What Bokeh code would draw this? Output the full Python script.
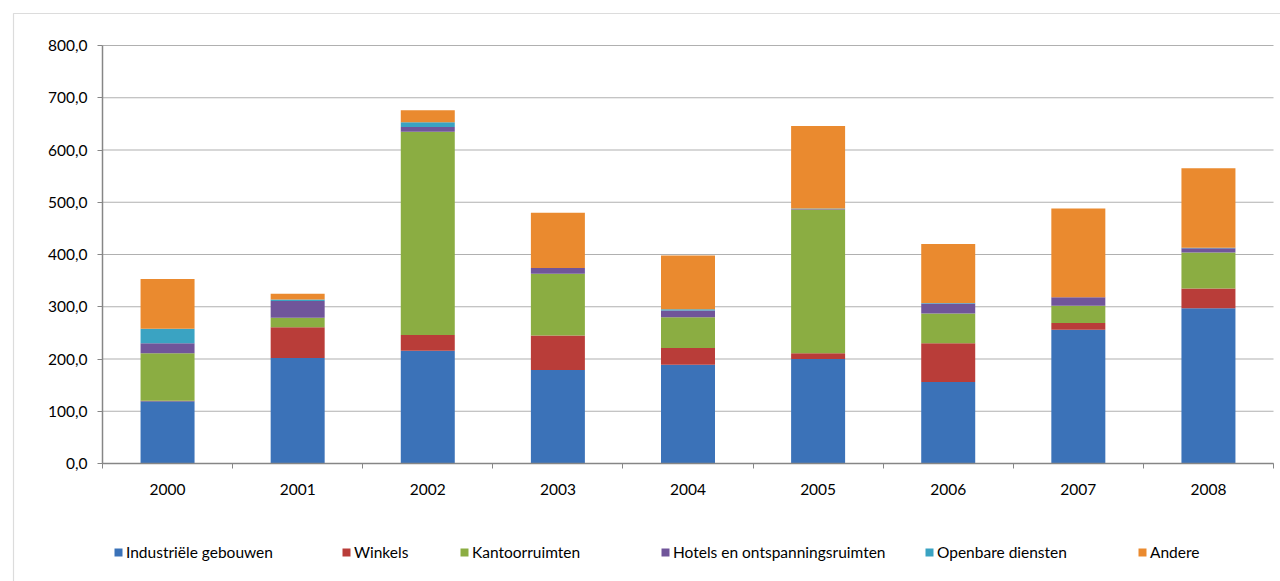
from bokeh.plotting import figure
from bokeh.models import (Range1d, FixedTicker, Legend, LegendItem, BoxAnnotation, ColumnDataSource)
from bokeh.embed import file_html
from bokeh.resources import INLINE

years = ["2000", "2001", "2002", "2003", "2004", "2005", "2006", "2007", "2008"]
series = ["Industriële gebouwen", "Winkels", "Kantoorruimten",
          "Hotels en ontspanningsruimten", "Openbare diensten", "Andere"]
industriele = [119, 202, 216, 179, 189, 200, 156, 256, 297]
winkels = [1, 59, 30, 66, 32, 11, 74, 13, 38]
kantoor = [91, 18, 389, 118, 59, 275, 57, 33, 69]
hotels = [19, 32, 9, 11, 13, 1, 19, 16, 8]
openbare = [28, 3, 9, 0, 2, 1, 1, 0, 1]
andere = [95, 11, 23, 106, 103, 158, 113, 170, 152]
y_ticks = [0, 100, 200, 300, 400, 500, 600, 700, 800]

colors = ["#3B72B8", "#B93D39", "#8BAD42", "#70559A", "#3AA3C2", "#EA8A2F"]
FONT = "Lato"
FS = "15.5px"

# layout (pixels) of the plotting area inside the 1280x581 canvas
W, H = 1280, 581
PL, PR, PT, PB = 102, 1273, 45, 463
YMAX = 800
n = len(years)
xs = (PR - PL) / n
ys = (PB - PT) / YMAX
x_range = Range1d(-PL / xs, n + (W - PR) / xs)
y_range = Range1d(-(H - PB) / ys, YMAX + PT / ys)

keys = ["ind", "win", "kan", "hot", "ope", "and"]
xpos = [i + 0.5 for i in range(n)]
src = ColumnDataSource(dict(x=xpos, ind=industriele, win=winkels, kan=kantoor,
                            hot=hotels, ope=openbare, **{"and": andere}))

p = figure(width=W, height=H, output_backend="svg", toolbar_location=None,
           x_range=x_range, y_range=y_range,
           min_border_left=0, min_border_right=0, min_border_top=0, min_border_bottom=0)
p.outline_line_color = None
p.background_fill_color = "white"
p.border_fill_color = "white"
p.xgrid.grid_line_color = None
p.ygrid.grid_line_color = None

# horizontal gridlines limited to the plotting area
p.segment(x0=[0] * len(y_ticks), x1=[n] * len(y_ticks), y0=y_ticks, y1=y_ticks,
          line_color="#B0B0B0", line_width=1.2)

rs = p.vbar_stack(keys, x="x", width=0.415, source=src, color=colors,
                  line_color=None)

# axes fixed at the data origin
p.xaxis.fixed_location = 0
p.xaxis.bounds = (0, n)
p.xaxis.ticker = FixedTicker(ticks=xpos, minor_ticks=list(range(n + 1)))
p.xaxis.major_label_overrides = {x: y for x, y in zip(xpos, years)}
p.xaxis.major_tick_line_color = None
p.xaxis.minor_tick_line_color = "#868686"
p.xaxis.minor_tick_out = 5
p.xaxis.minor_tick_in = 0
p.xaxis.axis_line_color = "#868686"
p.xaxis.axis_line_width = 1.5
p.xaxis.major_label_standoff = 14
p.xaxis.major_label_text_font = FONT
p.xaxis.major_label_text_font_size = FS
p.xaxis.major_label_text_color = "#000000"

p.yaxis.fixed_location = 0
p.yaxis.bounds = (0, YMAX)
p.yaxis.ticker = FixedTicker(ticks=y_ticks)
p.yaxis.major_label_overrides = {v: f"{v:.1f}".replace(".", ",") for v in y_ticks}
p.yaxis.minor_tick_line_color = None
p.yaxis.major_tick_line_color = "#868686"
p.yaxis.major_tick_out = 5
p.yaxis.major_tick_in = 0
p.yaxis.axis_line_color = "#868686"
p.yaxis.axis_line_width = 1.5
p.yaxis.major_label_standoff = 10
p.yaxis.major_label_text_font = FONT
p.yaxis.major_label_text_font_size = FS
p.yaxis.major_label_text_color = "#000000"

# legend: separate entries at Excel-like positions (screen px from frame left / bottom)
legend_x = [113, 341, 459, 660, 924, 1137]
for name, r, lx in zip(series, rs, legend_x):
    lg = Legend(items=[LegendItem(label=name, renderers=[r])], location=(lx, 20),
                orientation="horizontal", padding=0, margin=0, spacing=0,
                border_line_color=None, background_fill_alpha=0,
                glyph_width=10, glyph_height=10, label_height=18, label_standoff=3,
                label_text_font=FONT, label_text_font_size=FS,
                label_text_color="#000000")
    p.add_layout(lg, "center")

# outer chart border (left and top edges visible)
p.add_layout(BoxAnnotation(left=13, right=1300, top=13, bottom=600,
                           left_units="canvas", right_units="canvas",
                           top_units="canvas", bottom_units="canvas",
                           fill_alpha=0, line_color="#8C8C8C", line_width=1.2))

open("out.html", "w").write(file_html(p, INLINE))
